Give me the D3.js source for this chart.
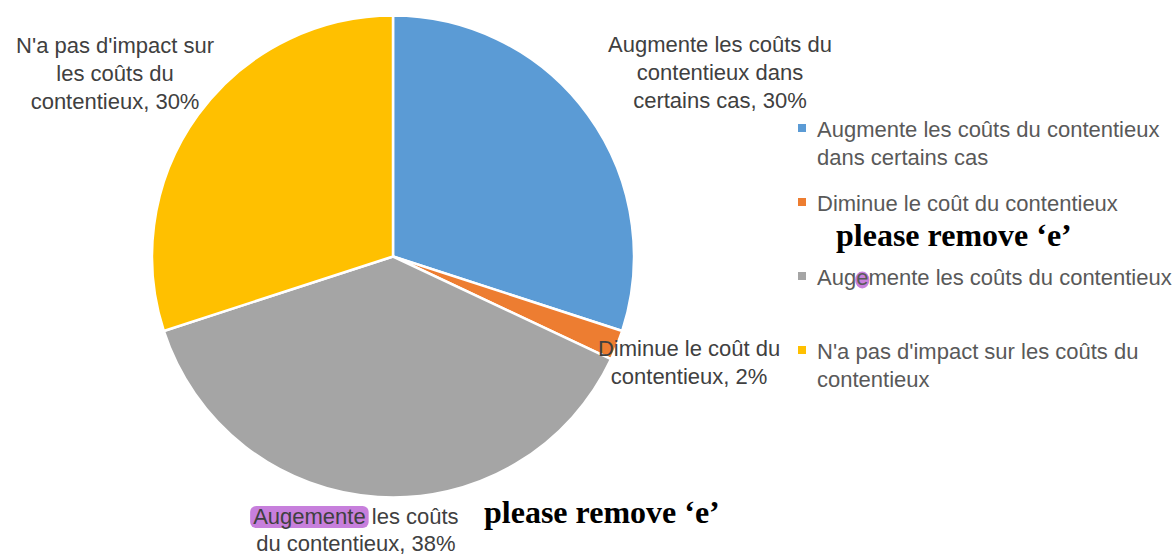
<!DOCTYPE html>
<html>
<head>
<meta charset="utf-8">
<script src="https://cdn.jsdelivr.net/npm/d3@7/dist/d3.min.js"></script>
<style>
  body { margin: 0; background: #fff; }
  text { font-family: "Liberation Sans", Arial, sans-serif; }
</style>
</head>
<body>
<div id="chart"></div>
<script>
// chart data
const categories = [
  'Augmente les coûts du contentieux dans certains cas',
  'Diminue le coût du contentieux',
  'Augemente les coûts du contentieux',
  "N'a pas d'impact sur les coûts du contentieux"
]
const values = [30, 2, 38, 30]
const colors = ['#5b9bd5', '#ed7d31', '#a5a5a5', '#ffc000']

// data labels, as wrapped in the picture
const labelLines = [
  ['Augmente les coûts du', 'contentieux dans', 'certains cas, 30%'],
  ['Diminue le coût du', 'contentieux, 2%'],
  ['Augemente les coûts', 'du contentieux, 38%'],
  ["N'a pas d'impact sur", 'les coûts du', 'contentieux, 30%']
]
const legendLines = [
  ['Augmente les coûts du contentieux', 'dans certains cas'],
  ['Diminue le coût du contentieux'],
  ['Augemente les coûts du contentieux'],
  ["N'a pas d'impact sur les coûts du", 'contentieux']
]
const noteText = 'please remove \u2018e\u2019'

// layout
const width = 1174, height = 558
const cx = 393, cy = 256.5, radius = 241
const lineH = 28
const fontSize = 22
// where each label sits relative to the slice's outer edge midpoint
const labelShift = [[132, -63], [72, 11], [-22, 27], [-83, -62]]

const svg = d3.select('#chart')
  .append('svg')
  .attr('width', width)
  .attr('height', height)

const highlights = svg.append('g')

const pie = d3.pie().sort(null).value(d => d)
const arcs = pie(values)

const arc = d3.arc().innerRadius(0).outerRadius(radius)
const edge = d3.arc().innerRadius(radius).outerRadius(radius)

const g = svg.append('g').attr('transform', `translate(${cx},${cy})`)

g.selectAll('path')
  .data(arcs)
  .enter()
  .append('path')
  .attr('d', arc)
  .attr('fill', (d, i) => colors[i])
  .attr('stroke', '#fff')
  .attr('stroke-width', 2.5)
  .attr('stroke-linejoin', 'round')

// data labels
const labels = g.selectAll('text.lbl')
  .data(arcs)
  .enter()
  .append('text')
  .attr('class', 'lbl')
  .attr('text-anchor', 'middle')
  .attr('font-size', fontSize)
  .attr('fill', '#404040')
  .each(function (d, i) {
    const c = edge.centroid(d)
    const x = c[0] + labelShift[i][0]
    const y = c[1] + labelShift[i][1]
    d3.select(this).selectAll('tspan')
      .data(labelLines[i])
      .enter()
      .append('tspan')
      .attr('x', x)
      .attr('y', (l, j) => y + j * (i === 2 ? lineH - 1 : lineH))
      .text(l => l)
  })

// legend
const legendX = 798, legendTop = 137, legendStep = 74
const legend = svg.append('g')
  .selectAll('g')
  .data(categories)
  .enter()
  .append('g')
  .attr('transform', (d, i) => `translate(${legendX},${legendTop + i * legendStep})`)

legend.append('rect')
  .attr('x', 0)
  .attr('y', -13)
  .attr('width', 8)
  .attr('height', 8)
  .attr('fill', (d, i) => colors[i])

legend.append('text')
  .attr('font-size', fontSize)
  .attr('fill', '#595959')
  .each(function (d, i) {
    d3.select(this).selectAll('tspan')
      .data(legendLines[i])
      .enter()
      .append('tspan')
      .attr('x', 19)
      .attr('y', (l, j) => j * lineH)
      .text(l => l)
  })

// purple marks behind the misspelt word
const grayLabel = labels.filter((d, i) => i === 2).select('tspan').node()
const p0 = grayLabel.getStartPositionOfChar(0)
const wWord = grayLabel.getSubStringLength(0, 9)
highlights.append('rect')
  .attr('x', cx + p0.x - 3)
  .attr('y', cy + p0.y - 18)
  .attr('width', wWord + 6)
  .attr('height', 22)
  .attr('rx', 6)
  .attr('fill', '#c77fdc')

const grayLegend = legend.filter((d, i) => i === 2).select('tspan').node()
const p3 = grayLegend.getStartPositionOfChar(3)
const wE = grayLegend.getSubStringLength(3, 1)
highlights.append('ellipse')
  .attr('cx', legendX + p3.x + wE / 2)
  .attr('cy', legendTop + 2 * legendStep + p3.y - 5)
  .attr('rx', wE / 2 + 1)
  .attr('ry', 8.5)
  .attr('fill', '#c77fdc')

// notes
const notes = [[836, 246], [484, 523]]
svg.append('g')
  .selectAll('text')
  .data(notes)
  .enter()
  .append('text')
  .attr('x', d => d[0])
  .attr('y', d => d[1])
  .style('font-family', '"Liberation Serif", "Times New Roman", serif')
  .attr('font-weight', 'bold')
  .attr('font-size', 32)
  .attr('fill', '#000')
  .text(noteText)
</script>
</body>
</html>
